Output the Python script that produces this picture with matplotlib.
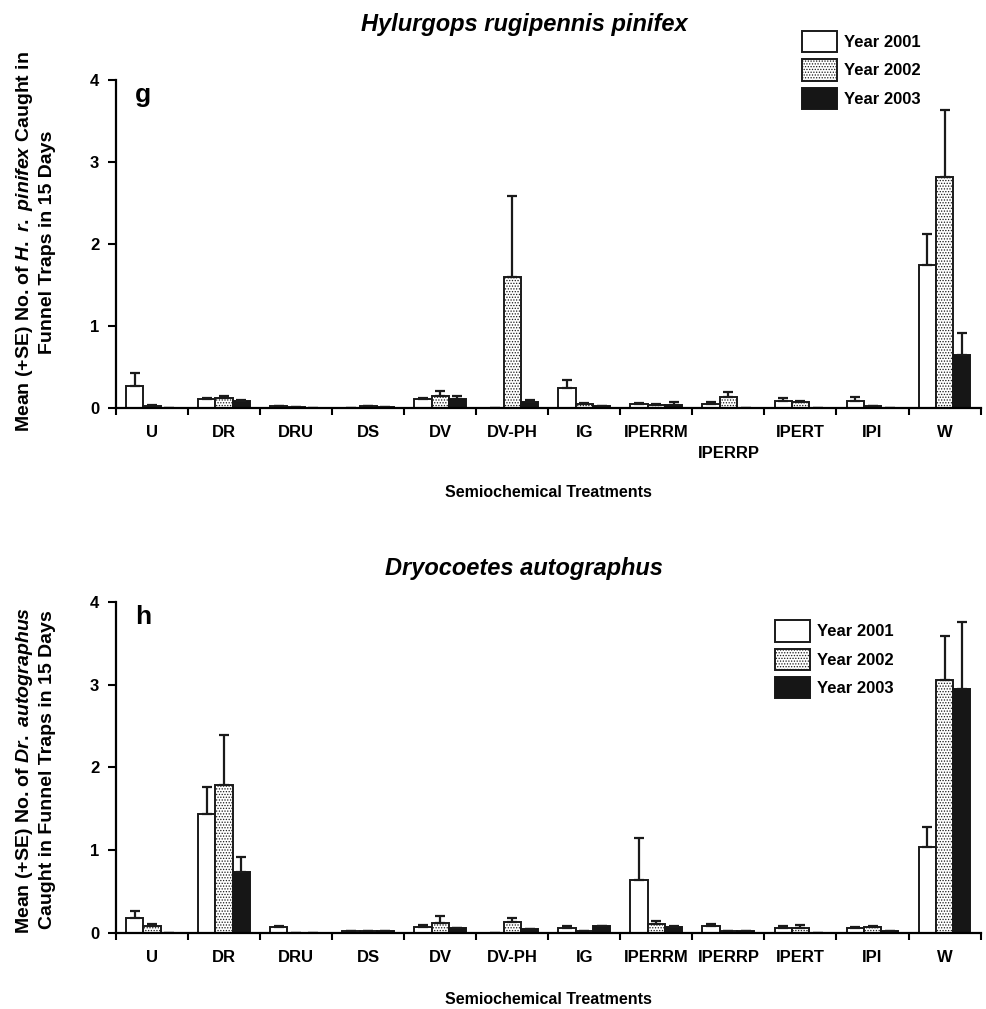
import numpy as np
import matplotlib
matplotlib.use("Agg")
import matplotlib.pyplot as plt

plt.rcParams['font.family'] = ['Liberation Sans', 'DejaVu Sans']
plt.rcParams['font.weight'] = 'bold'
plt.rcParams['mathtext.fontset'] = 'custom'
plt.rcParams['mathtext.it'] = 'Liberation Sans:italic:bold'
plt.rcParams['mathtext.rm'] = 'Liberation Sans:bold'
plt.rcParams['hatch.linewidth'] = 0.6

treatments = ['U', 'DR', 'DRU', 'DS', 'DV', 'DV-PH', 'IG', 'IPERRM', 'IPERRP', 'IPERT', 'IPI', 'W']
years = ['Year 2001', 'Year 2002', 'Year 2003']

# panel g: Hylurgops rugipennis pinifex (means and SE)
hr_2001 = [0.27, 0.11, 0.02, 0.00, 0.11, 0.00, 0.24, 0.05, 0.05, 0.09, 0.09, 1.75]
hr_2002 = [0.03, 0.12, 0.01, 0.02, 0.15, 1.60, 0.05, 0.04, 0.13, 0.07, 0.02, 2.82]
hr_2003 = [0.00, 0.08, 0.00, 0.01, 0.11, 0.07, 0.02, 0.04, 0.00, 0.00, 0.00, 0.65]
hr_se_2001 = [0.16, 0.01, 0.00, 0.00, 0.01, 0.00, 0.10, 0.01, 0.02, 0.03, 0.05, 0.37]
hr_se_2002 = [0.01, 0.03, 0.00, 0.00, 0.06, 0.98, 0.01, 0.01, 0.06, 0.02, 0.00, 0.82]
hr_se_2003 = [0.00, 0.02, 0.00, 0.00, 0.04, 0.03, 0.00, 0.03, 0.00, 0.00, 0.00, 0.26]

# panel h: Dryocoetes autographus (means and SE)
da_2001 = [0.18, 1.44, 0.07, 0.03, 0.07, 0.00, 0.06, 0.64, 0.08, 0.06, 0.06, 1.04]
da_2002 = [0.08, 1.79, 0.00, 0.03, 0.12, 0.13, 0.02, 0.11, 0.02, 0.06, 0.07, 3.06]
da_2003 = [0.00, 0.74, 0.00, 0.02, 0.06, 0.05, 0.08, 0.07, 0.02, 0.00, 0.03, 2.95]
da_se_2001 = [0.09, 0.32, 0.01, 0.00, 0.03, 0.00, 0.03, 0.51, 0.03, 0.02, 0.01, 0.24]
da_se_2002 = [0.03, 0.60, 0.00, 0.00, 0.08, 0.05, 0.00, 0.03, 0.00, 0.04, 0.02, 0.53]
da_se_2003 = [0.00, 0.18, 0.00, 0.00, 0.00, 0.00, 0.01, 0.02, 0.00, 0.00, 0.00, 0.81]

fig = plt.figure(figsize=(9.87, 10.09), dpi=100)
ax1 = fig.add_axes([0.1175, 0.5956, 0.876, 0.3251])
ax2 = fig.add_axes([0.1175, 0.0753, 0.876, 0.3281])

styles = [dict(facecolor='white', edgecolor='#1a1a1a'),
          dict(facecolor='white', edgecolor='#1a1a1a', hatch='......'),
          dict(facecolor='#161616', edgecolor='#161616')]


def draw_panel(ax, means, ses, letter, leg_anchor):
    x = np.arange(len(treatments))
    w = 0.24
    for k, (m, s) in enumerate(zip(means, ses)):
        ax.bar(x + (k - 1) * w, m, w, label=years[k], linewidth=1.4,
               yerr=[np.zeros(len(s)), s], capsize=3.5,
               error_kw=dict(ecolor='#1a1a1a', elinewidth=1.6, capthick=1.6),
               **styles[k])
    ax.set_xlim(-0.5, len(treatments) - 0.5)
    ax.set_ylim(0, 4)
    ax.set_yticks([0, 1, 2, 3, 4])
    ax.set_xticks(x)
    ax.set_xticks(np.arange(len(treatments) + 1) - 0.5, minor=True)
    ax.tick_params(axis='x', which='major', length=0, pad=12, labelsize=12)
    ax.tick_params(axis='x', which='minor', length=5, width=1.5, direction='out')
    ax.tick_params(axis='y', length=6, width=1.5, labelsize=12, pad=6)
    for sp in ['top', 'right']:
        ax.spines[sp].set_visible(False)
    for sp in ['left', 'bottom']:
        ax.spines[sp].set_linewidth(1.6)
    ax.set_xticklabels(treatments, fontweight='bold')
    for lab in ax.get_yticklabels():
        lab.set_fontweight('bold')
    ax.text(0.022, 0.955, letter, transform=ax.transAxes, fontsize=19,
            fontweight='bold', va='center', ha='left')
    ax.legend(loc='upper left', bbox_to_anchor=leg_anchor, frameon=False,
              fontsize=12, handlelength=2.1, handleheight=1.6,
              labelspacing=0.42, handletextpad=0.45, borderpad=0,
              borderaxespad=0)


draw_panel(ax1, [hr_2001, hr_2002, hr_2003], [hr_se_2001, hr_se_2002, hr_se_2003],
           'g', (0.793, 1.15))
# IPERRP sits one line lower in the upper panel
top_labels = list(treatments)
top_labels[8] = '\nIPERRP'
ax1.set_xticklabels(top_labels, fontweight='bold', va='top', linespacing=1.5)

draw_panel(ax2, [da_2001, da_2002, da_2003], [da_se_2001, da_se_2002, da_se_2003],
           'h', (0.762, 0.945))

fig.text(524 / 987, 1 - 25 / 1009, 'Hylurgops rugipennis pinifex', ha='center',
         va='center', fontsize=17, fontweight='bold', style='italic')
fig.text(524 / 987, 1 - 568 / 1009, 'Dryocoetes autographus', ha='center',
         va='center', fontsize=17, fontweight='bold', style='italic')
fig.text(548 / 987, 1 - 493 / 1009, 'Semiochemical Treatments', ha='center',
         va='center', fontsize=11.5, fontweight='bold')
fig.text(548 / 987, 1 - 1000 / 1009, 'Semiochemical Treatments', ha='center',
         va='center', fontsize=11.5, fontweight='bold')

fig.text(35 / 987, 1 - 242 / 1009,
         'Mean (+SE) No. of $H.$ $r.$ $pinifex$ Caught in\nFunnel Traps in 15 Days',
         rotation=90, ha='center', va='center', fontsize=14, fontweight='bold',
         multialignment='center', linespacing=1.35)
fig.text(35 / 987, 1 - 770 / 1009,
         'Mean (+SE) No. of $Dr.$ $autographus$\nCaught in Funnel Traps in 15 Days',
         rotation=90, ha='center', va='center', fontsize=14, fontweight='bold',
         multialignment='center', linespacing=1.35)

plt.savefig('out.png', dpi=100)
